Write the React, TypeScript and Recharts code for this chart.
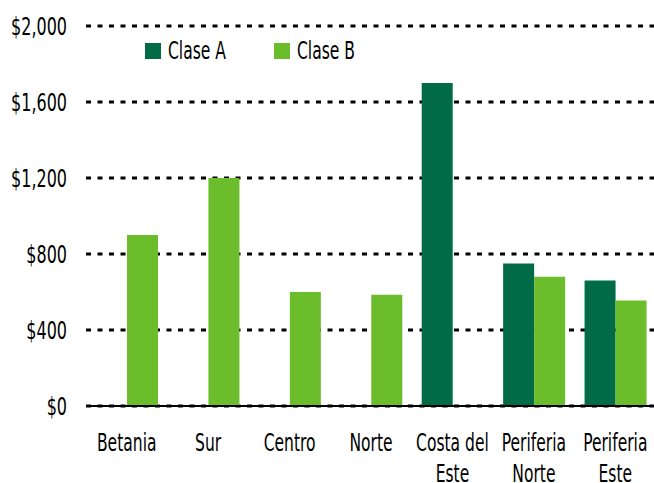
import React from 'react';
import { BarChart, Bar, XAxis, YAxis, CartesianGrid, Legend } from 'recharts';

const categories = ['Betania', 'Sur', 'Centro', 'Norte', 'Costa del\nEste', 'Periferia\nNorte', 'Periferia\nEste'];
const claseA = [0, 0, 0, 0, 1700, 750, 660];
const claseB = [900, 1200, 600, 585, 0, 680, 555];
const yTicks = [0, 400, 800, 1200, 1600, 2000];

const series = [
  { key: 'claseA', name: 'Clase A', color: '#016b47' },
  { key: 'claseB', name: 'Clase B', color: '#6bbd2b' },
];

const FONT = '"DejaVu Sans Condensed", "DejaVu Sans", sans-serif';
const FONT_SIZE = 24;
const SQUEEZE = 0.72; // the original type is a narrow condensed face

const data = categories.map((name, i) => ({ name, claseA: claseA[i], claseB: claseB[i] }));

function CategoryTick({ x, y, payload }: any) {
  const lines = String(payload.value).split('\n');
  return (
    <g transform={`translate(${x},${y}) scale(${SQUEEZE},1)`}>
      <text x={0} y={0} textAnchor="middle" fill="#000" fontFamily={FONT} fontSize={FONT_SIZE}>
        {lines.map((line, i) => (
          <tspan key={i} x={0} dy={i === 0 ? 37 : 31}>
            {line}
          </tspan>
        ))}
      </text>
    </g>
  );
}

function MoneyTick({ x, y, payload }: any) {
  return (
    <g transform={`translate(${x},${y}) scale(0.74,1)`}>
      <text x={0} y={0} dy="0.36em" textAnchor="end" fill="#000" fontFamily={FONT} fontSize={FONT_SIZE}>
        {`$${Number(payload.value).toLocaleString('en-US')}`}
      </text>
    </g>
  );
}

function LegendContent() {
  return (
    <div style={{ position: 'relative', height: 20, fontFamily: FONT, fontSize: FONT_SIZE, color: '#000' }}>
      {series.map((s, i) => (
        <div key={s.key} style={{ position: 'absolute', left: i * 129, top: 0, display: 'flex', alignItems: 'center', height: 16 }}>
          <span style={{ width: 16, height: 16, background: s.color, display: 'inline-block' }} />
          <span style={{ marginLeft: 7, display: 'inline-block', transform: `scaleX(${SQUEEZE})`, transformOrigin: 'left center', whiteSpace: 'nowrap', lineHeight: '16px' }}>
            {s.name}
          </span>
        </div>
      ))}
    </div>
  );
}

export default function App() {
  return (
    <div style={{ position: 'absolute', left: 0, top: 0, width: 654, height: 483, overflow: 'hidden', background: '#fff' }}>
      <BarChart
        width={656}
        height={483}
        data={data}
        margin={{ top: 26, right: 0, bottom: 0, left: 0 }}
        barGap={0}
        barSize={31}
      >
        <CartesianGrid vertical={false} stroke="#000" strokeWidth={3} strokeDasharray="5 6.5" />
        <XAxis
          dataKey="name"
          interval={0}
          height={77}
          tickLine={false}
          axisLine={{ stroke: '#000', strokeWidth: 2 }}
          tick={<CategoryTick />}
        />
        <YAxis
          width={86}
          domain={[0, 2000]}
          ticks={yTicks}
          axisLine={false}
          tickLine={false}
          tickSize={0}
          tickMargin={19}
          tick={<MoneyTick />}
        />
        <Legend
          verticalAlign="middle"
          layout="horizontal"
          content={<LegendContent />}
          wrapperStyle={{ top: 43, left: 145, width: 300, height: 20 }}
        />
        {series.map((s) => (
          <Bar key={s.key} dataKey={s.key} name={s.name} fill={s.color} isAnimationActive={false} />
        ))}
      </BarChart>
    </div>
  );
}
